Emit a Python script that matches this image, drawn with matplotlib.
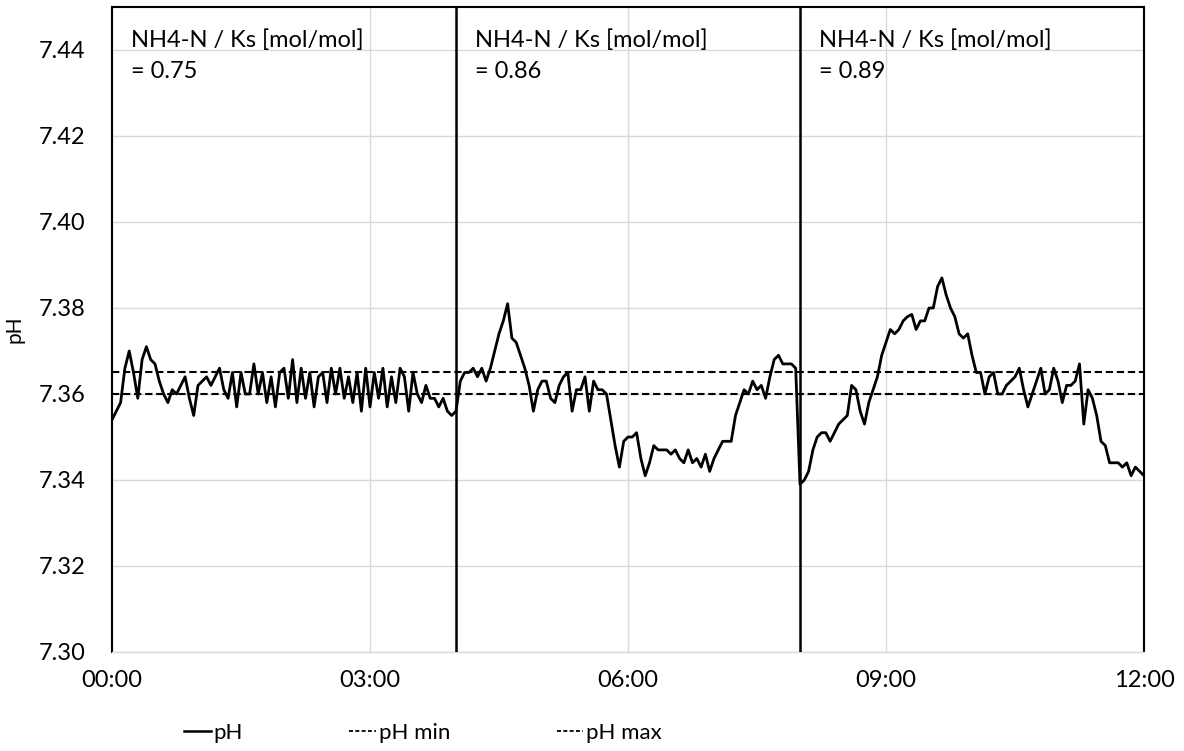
import matplotlib.pyplot as plt
from matplotlib.lines import Line2D
import numpy as np

plt.rcParams['font.family'] = ['Lato', 'DejaVu Sans']

# pH readings every 3 minutes, 00:00 .. 12:00
minutes = np.arange(0, 721, 3)
ph = [
    7.354, 7.356, 7.358, 7.366, 7.370, 7.365, 7.359, 7.368, 7.371, 7.368,
    7.367, 7.363, 7.360, 7.358, 7.361, 7.360, 7.362, 7.364, 7.359, 7.355,
    7.362, 7.363, 7.364, 7.362, 7.364, 7.366, 7.361, 7.359, 7.365, 7.357,
    7.365, 7.360, 7.360, 7.367, 7.360, 7.365, 7.358, 7.364, 7.357, 7.365,
    7.366, 7.359, 7.368, 7.358, 7.366, 7.359, 7.365, 7.357, 7.364, 7.365,
    7.358, 7.366, 7.360, 7.366, 7.359, 7.364, 7.358, 7.365, 7.356, 7.366,
    7.357, 7.365, 7.359, 7.366, 7.357, 7.364, 7.358, 7.366, 7.364, 7.356,
    7.365, 7.360, 7.358, 7.362, 7.359, 7.359, 7.357, 7.359, 7.356, 7.355,
    7.356, 7.363, 7.365, 7.365, 7.366, 7.364, 7.366, 7.363, 7.366, 7.370,
    7.374, 7.377, 7.381, 7.373, 7.372, 7.369, 7.366, 7.362, 7.356, 7.361,
    7.363, 7.363, 7.359, 7.358, 7.362, 7.364, 7.365, 7.356, 7.361, 7.361,
    7.364, 7.356, 7.363, 7.361, 7.361, 7.360, 7.354, 7.348, 7.343, 7.349,
    7.350, 7.350, 7.351, 7.345, 7.341, 7.344, 7.348, 7.347, 7.347, 7.347,
    7.346, 7.347, 7.345, 7.344, 7.347, 7.344, 7.345, 7.343, 7.346, 7.342,
    7.345, 7.347, 7.349, 7.349, 7.349, 7.355, 7.358, 7.361, 7.360, 7.363,
    7.361, 7.362, 7.359, 7.364, 7.368, 7.369, 7.367, 7.367, 7.367, 7.366,
    7.339, 7.340, 7.342, 7.347, 7.350, 7.351, 7.351, 7.349, 7.351, 7.353,
    7.354, 7.355, 7.362, 7.361, 7.356, 7.353, 7.358, 7.361, 7.364, 7.369,
    7.372, 7.375, 7.374, 7.375, 7.377, 7.378, 7.3785, 7.375, 7.377, 7.377,
    7.380, 7.380, 7.385, 7.387, 7.383, 7.380, 7.378, 7.374, 7.373, 7.374,
    7.369, 7.365, 7.365, 7.360, 7.364, 7.365, 7.360, 7.360, 7.362, 7.363,
    7.364, 7.366, 7.361, 7.357, 7.360, 7.363, 7.366, 7.360, 7.361, 7.366,
    7.363, 7.358, 7.362, 7.362, 7.363, 7.367, 7.353, 7.361, 7.359, 7.355,
    7.349, 7.348, 7.344, 7.344, 7.344, 7.343, 7.344, 7.341, 7.343, 7.342,
    7.341,
]
ph_min = 7.360
ph_max = 7.365

# test phases: start hour and NH4-N / Ks ratio
phase_start = [0, 4, 8]
ratio = ['0.75', '0.86', '0.89']

xticks = [0, 3, 6, 9, 12]
xtick_labels = ['00:00', '03:00', '06:00', '09:00', '12:00']
yticks = [7.30, 7.32, 7.34, 7.36, 7.38, 7.40, 7.42, 7.44]

hours = minutes / 60.0

fig = plt.figure(figsize=(11.84, 7.51), dpi=100)
ax = fig.add_axes([112 / 1184, 1 - 652 / 751, 1032 / 1184, 645 / 751])

ax.plot(hours, ph, color='black', lw=2.0, zorder=4)
ax.axhline(ph_min, color='black', lw=1.5, ls=(0, (3.5, 1.8)), zorder=3)
ax.axhline(ph_max, color='black', lw=1.5, ls=(0, (3.5, 1.8)), zorder=3)

for s in phase_start[1:]:
    ax.axvline(s, color='black', lw=1.8, zorder=5)

for s, r in zip(phase_start, ratio):
    ax.text(s + 0.22, 7.4449, 'NH4-N / Ks [mol/mol]\n= ' + r,
            fontsize=17, va='top', ha='left', linespacing=1.6, zorder=6)

ax.set_xlim(0, 12)
ax.set_ylim(7.30, 7.45)
ax.set_xticks(xticks)
ax.set_xticklabels(xtick_labels)
ax.set_yticks(yticks)
ax.set_yticklabels(['%.2f' % v for v in yticks])
ax.tick_params(axis='both', length=0, labelsize=17)
ax.tick_params(axis='y', pad=19)
ax.tick_params(axis='x', pad=13)
ax.grid(True, color='#d9d9d9', lw=1.0, zorder=0)
ax.set_axisbelow(True)
for sp in ax.spines.values():
    sp.set_color('black')
    sp.set_linewidth(1.5)
ax.spines['bottom'].set_color('#d9d9d9')
ax.spines['bottom'].set_linewidth(1.0)

ax.set_ylabel('pH', fontsize=15, labelpad=10)

handles = [
    Line2D([], [], color='black', lw=1.8),
    Line2D([], [], color='black', lw=1.3, ls=(0, (2.2, 1.3))),
    Line2D([], [], color='black', lw=1.3, ls=(0, (2.2, 1.3))),
]
fig.legend(handles, ['pH', 'pH min', 'pH max'], loc='center',
           bbox_to_anchor=(423 / 1184, 18 / 751), ncol=3, frameon=False,
           fontsize=16, handlelength=1.2, handletextpad=0.12, columnspacing=4.8)

fig.savefig('out.png', dpi=100)
